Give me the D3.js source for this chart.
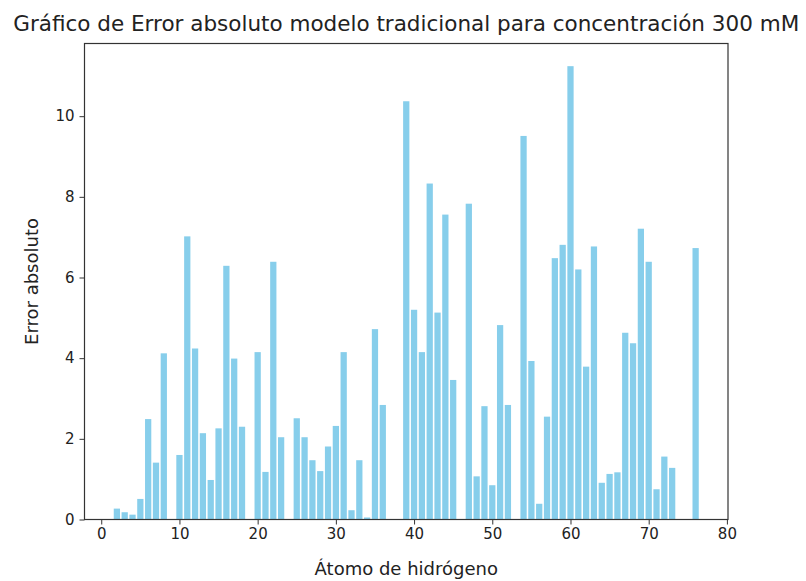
<!DOCTYPE html>
<html>
<head>
<meta charset="utf-8">
<script src="https://cdn.jsdelivr.net/npm/d3@7"></script>
<style>
  html, body { margin: 0; padding: 0; background: #fff; }
  svg { display: block; }
  text { font-family: "DejaVu Sans", sans-serif; fill: #222; }
</style>
</head>
<body>
<svg id="chart" width="806" height="581"></svg>
<script>
// Hydrogen atom indices (atoms without a value are simply absent)
const atoms = [2,3,4,5,6,7,8,10,11,12,13,14,15,16,17,18,20,21,22,23,
  25,26,27,28,29,30,31,32,33,34,35,36,39,40,41,42,43,44,45,47,48,49,50,
  51,52,54,55,56,57,58,59,60,61,62,63,64,65,66,67,68,69,70,71,72,73,76];

// Absolute error per atom (traditional model, 300 mM)
const absError = [0.27,0.18,0.12,0.51,2.49,1.41,4.12,1.60,7.02,4.24,2.14,0.98,2.26,6.29,3.99,2.30,4.15,1.18,6.39,2.04,
  2.51,2.04,1.47,1.20,1.81,2.32,4.15,0.23,1.47,0.05,4.72,2.84,10.37,5.20,4.15,8.33,5.13,7.56,3.46,7.83,1.07,2.81,0.85,
  4.82,2.84,9.51,3.93,0.39,2.55,6.48,6.81,11.24,6.20,3.79,6.77,0.91,1.13,1.17,4.63,4.37,7.21,6.39,0.75,1.56,1.28,6.73];

const xTicks = [0,10,20,30,40,50,60,70,80];
const yTicks = [0,2,4,6,8,10];

const titleText = "Gráfico de Error absoluto modelo tradicional para concentración 300 mM";
const xLabel = "Átomo de hidrógeno";
const yLabel = "Error absoluto";

const barWidth = 0.8;
const margin = { left: 84.5, right: 78, top: 43.5, bottom: 61.5 };
const W = 806, H = 581;

const svg = d3.select("#chart");

// Axis limits with 5% padding around the bar extents
const xMin = d3.min(atoms) - barWidth / 2, xMax = d3.max(atoms) + barWidth / 2;
const xPad = (xMax - xMin) * 0.05;
const yMax = d3.max(absError) * 1.05;

const x = d3.scaleLinear()
  .domain([xMin - xPad, xMax + xPad])
  .range([margin.left, W - margin.right]);
const y = d3.scaleLinear()
  .domain([0, yMax])
  .range([H - margin.bottom, margin.top]);

const data = atoms.map((a, i) => ({ atom: a, value: absError[i] }));

svg.append("g")
  .selectAll("rect")
  .data(data)
  .join("rect")
  .attr("x", d => x(d.atom - barWidth / 2))
  .attr("width", d => x(d.atom + barWidth / 2) - x(d.atom - barWidth / 2))
  .attr("y", d => y(d.value))
  .attr("height", d => y(0) - y(d.value))
  .attr("fill", "#87CEEB");

// Axes
const xAxis = svg.append("g")
  .attr("transform", `translate(0,${H - margin.bottom})`)
  .call(d3.axisBottom(x).tickValues(xTicks).tickFormat(d3.format("d")).tickSize(5).tickPadding(4));
const yAxis = svg.append("g")
  .attr("transform", `translate(${margin.left},0)`)
  .call(d3.axisLeft(y).tickValues(yTicks).tickFormat(d3.format("d")).tickSize(5).tickPadding(5));

[xAxis, yAxis].forEach(g => {
  g.select(".domain").remove();
  g.selectAll(".tick line").attr("stroke", "#333").attr("stroke-width", 1);
  g.selectAll(".tick text").attr("font-size", 15).attr("font-family", "DejaVu Sans, sans-serif").attr("fill", "#222");
});

// Frame around the plot area
svg.append("rect")
  .attr("x", margin.left)
  .attr("y", margin.top)
  .attr("width", W - margin.left - margin.right)
  .attr("height", H - margin.top - margin.bottom)
  .attr("fill", "none")
  .attr("stroke", "#333")
  .attr("stroke-width", 1.2);

const cx = (margin.left + W - margin.right) / 2;

svg.append("text")
  .attr("x", cx)
  .attr("y", 31)
  .attr("text-anchor", "middle")
  .attr("font-size", 21.5)
  .text(titleText);

svg.append("text")
  .attr("x", cx)
  .attr("y", 575)
  .attr("text-anchor", "middle")
  .attr("font-size", 18)
  .text(xLabel);

svg.append("text")
  .attr("transform", `translate(38,${(margin.top + H - margin.bottom) / 2}) rotate(-90)`)
  .attr("text-anchor", "middle")
  .attr("font-size", 18)
  .text(yLabel);
</script>
</body>
</html>
